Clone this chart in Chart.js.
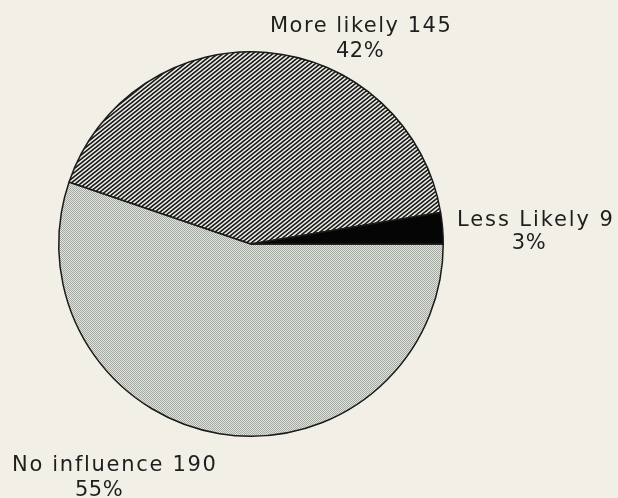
<!DOCTYPE html>
<html>
<head>
<meta charset="utf-8">
<script src="https://cdn.jsdelivr.net/npm/chart.js@4.4.1/dist/chart.umd.min.js"></script>
<style>
  html, body { margin: 0; padding: 0; background: #f2f0e6; }
  #wrap { width: 618px; height: 498px; }
</style>
</head>
<body>
<div id="wrap"><canvas id="pie"></canvas></div>
<script>
// Daten
const categories = ['No influence', 'More likely', 'Less Likely'];
const counts = [190, 145, 9];
const percents = ['55%', '42%', '3%'];

// Muster für die Flächen
function hatchPattern() {
  const c = document.createElement('canvas');
  c.width = 5; c.height = 4;
  const g = c.getContext('2d');
  g.fillStyle = '#f1f1ea';
  g.fillRect(0, 0, 5, 4);
  g.strokeStyle = '#1c1c1c';
  g.lineWidth = 1.7;
  for (let k = -1; k <= 1; k++) {
    g.beginPath();
    g.moveTo(-1.25 + k * 5, 5);
    g.lineTo(6.25 + k * 5, -1);
    g.stroke();
  }
  return g.createPattern(c, 'repeat');
}

function dotPattern() {
  const c = document.createElement('canvas');
  c.width = 2; c.height = 2;
  const g = c.getContext('2d');
  g.fillStyle = '#e2e5dd';
  g.fillRect(0, 0, 2, 2);
  g.fillStyle = '#a3a9a1';
  g.fillRect(0, 0, 1, 1);
  g.fillRect(1, 1, 1, 1);
  return g.createPattern(c, 'repeat');
}

// Lage der Beschriftungen relativ zum Kreismittelpunkt (Grundlinie)
const labelSpots = [
  { x1: -239, y1: 227, x2: -152, y2: 252, spacing: 1.7 },
  { x1: 19, y1: -212, x2: 109, y2: -187, spacing: 1.5 },
  { x1: 206, y1: -18, x2: 278, y2: 5, spacing: 1.9 }
];

const pieLabels = {
  id: 'pieLabels',
  afterDraw(chart) {
    const ctx = chart.ctx;
    const meta = chart.getDatasetMeta(0);
    ctx.save();
    ctx.fillStyle = '#1e1e1e';
    ctx.font = '21px "DejaVu Sans", sans-serif';
    ctx.textBaseline = 'alphabetic';
    meta.data.forEach((arc, i) => {
      const s = labelSpots[i];
      ctx.letterSpacing = s.spacing + 'px';
      ctx.textAlign = 'left';
      ctx.fillText(categories[i] + ' ' + counts[i], arc.x + s.x1, arc.y + s.y1);
      ctx.letterSpacing = '0.5px';
      ctx.textAlign = 'center';
      ctx.fillText(percents[i], arc.x + s.x2, arc.y + s.y2);
    });
    ctx.restore();
  }
};

new Chart(document.getElementById('pie'), {
  type: 'pie',
  data: {
    labels: categories,
    datasets: [{
      data: counts,
      backgroundColor: [dotPattern(), hatchPattern(), '#050505'],
      borderColor: '#1a1a1a',
      borderWidth: 1.5
    }]
  },
  options: {
    responsive: true,
    maintainAspectRatio: false,
    animation: false,
    rotation: 90,
    layout: { padding: { top: 51, bottom: 61, left: 58, right: 174 } },
    plugins: {
      legend: { display: false },
      tooltip: { enabled: false }
    }
  },
  plugins: [pieLabels]
});
</script>
</body>
</html>
